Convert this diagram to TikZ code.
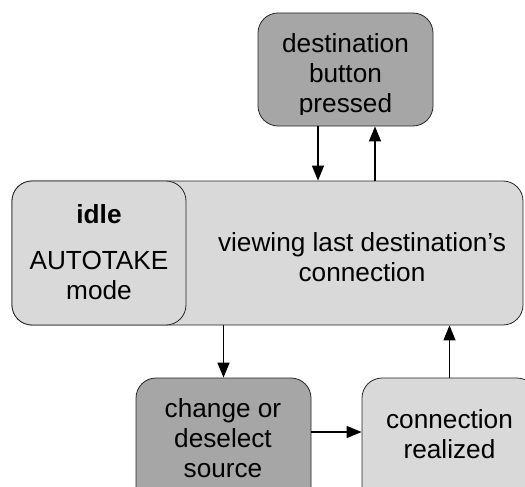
\documentclass[tikz,border=0pt]{standalone}
\usepackage{fontspec}
\setmainfont{Liberation Sans}
\usetikzlibrary{arrows.meta}
\definecolor{darkbox}{RGB}{166,166,166}
\definecolor{lightbox}{RGB}{217,217,217}
\begin{document}
\begin{tikzpicture}[x=1pt,y=-1pt,
  box/.style={draw=black!85, line width=0.8pt, rounded corners=20pt, inner sep=0pt},
  lbl/.style={font=\fontsize{26.2}{30}\selectfont, align=center, inner sep=0pt, anchor=base},
  arr/.style={line width=1.3pt, -{Triangle[length=15pt,width=12pt]}}]
\useasboundingbox (0,0) rectangle (525,487);
\clip (0,0) rectangle (525,487);
% boxes
\node[box, fill=darkbox, minimum width=175pt, minimum height=113pt] (dest) at (345.5,69.5) {};
\node[box, fill=lightbox, minimum width=511pt, minimum height=144pt] (view) at (267.5,253) {};
\node[box, fill=lightbox, minimum width=174pt, minimum height=144pt] (idle) at (99,253) {};
\node[box, fill=darkbox, minimum width=175pt, minimum height=162pt] (change) at (223.5,459) {};
\node[box, fill=lightbox, minimum width=175pt, minimum height=162pt] (real) at (449.5,459) {};
% texts
\begin{scope}
\clip (258,13) rectangle (433,114);
\node[lbl] (desttxt) at (345.5,113) {destination\\button\\pressed};
\end{scope}
\node[lbl, font=\fontsize{26.2}{30}\selectfont\bfseries] (idletxt) at (99,223) {idle};
\node[lbl] (modetxt) at (99,299) {AUTOTAKE\\mode};
\node[lbl] (viewtxt) at (362,281) {viewing last destination’s\\connection};
\node[lbl] (changetxt) at (223,477) {change or\\deselect\\source};
\node[lbl] (realtxt) at (449.5,458) {connection\\realized};
% connectors
\draw[arr] ([xshift=-27.5pt]dest.south) -- ([xshift=-27.5pt]dest.south |- view.north);
\draw[arr] ([xshift=29.5pt]dest.south |- view.north) -- ([xshift=29.5pt]dest.south);
\draw[arr] (view.south -| change.north) -- (change.north);
\draw[arr] (real.north) -- (real.north |- view.south);
\draw[arr] ([yshift=27pt]change.east) -- ([yshift=27pt]change.east -| real.west);
\end{tikzpicture}
\end{document}
